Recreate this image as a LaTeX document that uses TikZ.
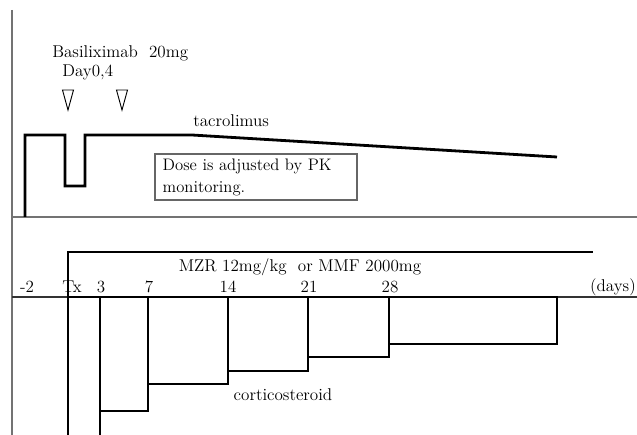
\documentclass[tikz,border=0pt]{standalone}
\usetikzlibrary{positioning}

\begin{document}
\begin{tikzpicture}[
    x=0.75pt, y=-0.75pt,
    drug/.style={line width=2.1pt, line join=miter},
    sep/.style={draw=black!55, line width=1pt},
    axis/.style={draw=black!80, line width=0.8pt},
    lbl/.style={font=\fontsize{12.8}{15}\selectfont, inner sep=0pt},
    note/.style={draw=black!60, line width=0.8pt, align=left, inner xsep=5.5pt, inner ysep=0pt, minimum width=151.5pt, minimum height=34.5pt, text width=140pt, font=\fontsize{12.5}{16.5}\selectfont},
    dosemark/.style={line width=0.7pt, line join=miter},
]
\useasboundingbox (0,0) rectangle (637,435);

% === frame lines ===
\draw[sep] (12,10) -- (12,435);
\draw[sep] (12,217) -- (637,217);
\draw[axis] (12,297) -- (637,297);

% === Basiliximab (upper part) ===
\node[lbl, anchor=west] (basi) at (52,53) {Basiliximab\ \ 20mg};
\node[lbl, anchor=west] (day) at (62,72) {Day0,4};
\coordinate (shot0) at (68,90);
\coordinate (shot4) at (122,90);
\foreach \s in {shot0, shot4}
    \draw[dosemark] (\s) ++(-5.5,0) -- ++(11,0) -- ++(-5.5,20) -- cycle;

% === tacrolimus ===
\draw[drug] (25,217) -- (25,135) -- (65,135) -- (65,186) -- (85,186) -- (85,135) -- (192,135) -- (557,157);
\node[lbl, anchor=west] (tac) at (193,121) {tacrolimus};
\node[note] (pknote) at (256,177) {Dose is adjusted by PK\\monitoring.};

% === days axis ===
\foreach \x/\d [count=\i] in {27/-2, 72/Tx, 101/3, 149/7, 228/14, 309/21, 390/28, 613/(days)}
    \node[lbl] (tick\i) at (\x,287) {\d};

% === MZR / MMF ===
\draw[drug] (68,435) -- (68,252) -- (593,252);
\node[lbl] (mzr) at (300,267) {MZR 12mg/kg\ \ or MMF 2000mg};

% === corticosteroid taper ===
\draw[drug] (68,297) -- (557,297) -- (557,344) -- (389,344) -- (389,357) -- (308,357) -- (308,371)
    -- (228,371) -- (228,384) -- (148,384) -- (148,411) -- (100,411) -- (100,435);
\foreach \x/\y in {100/411, 148/384, 228/371, 308/357, 389/344}
    \draw[drug] (\x,297) -- (\x,\y);
\node[lbl] (cort) at (283,395) {corticosteroid};
\end{tikzpicture}
\end{document}
